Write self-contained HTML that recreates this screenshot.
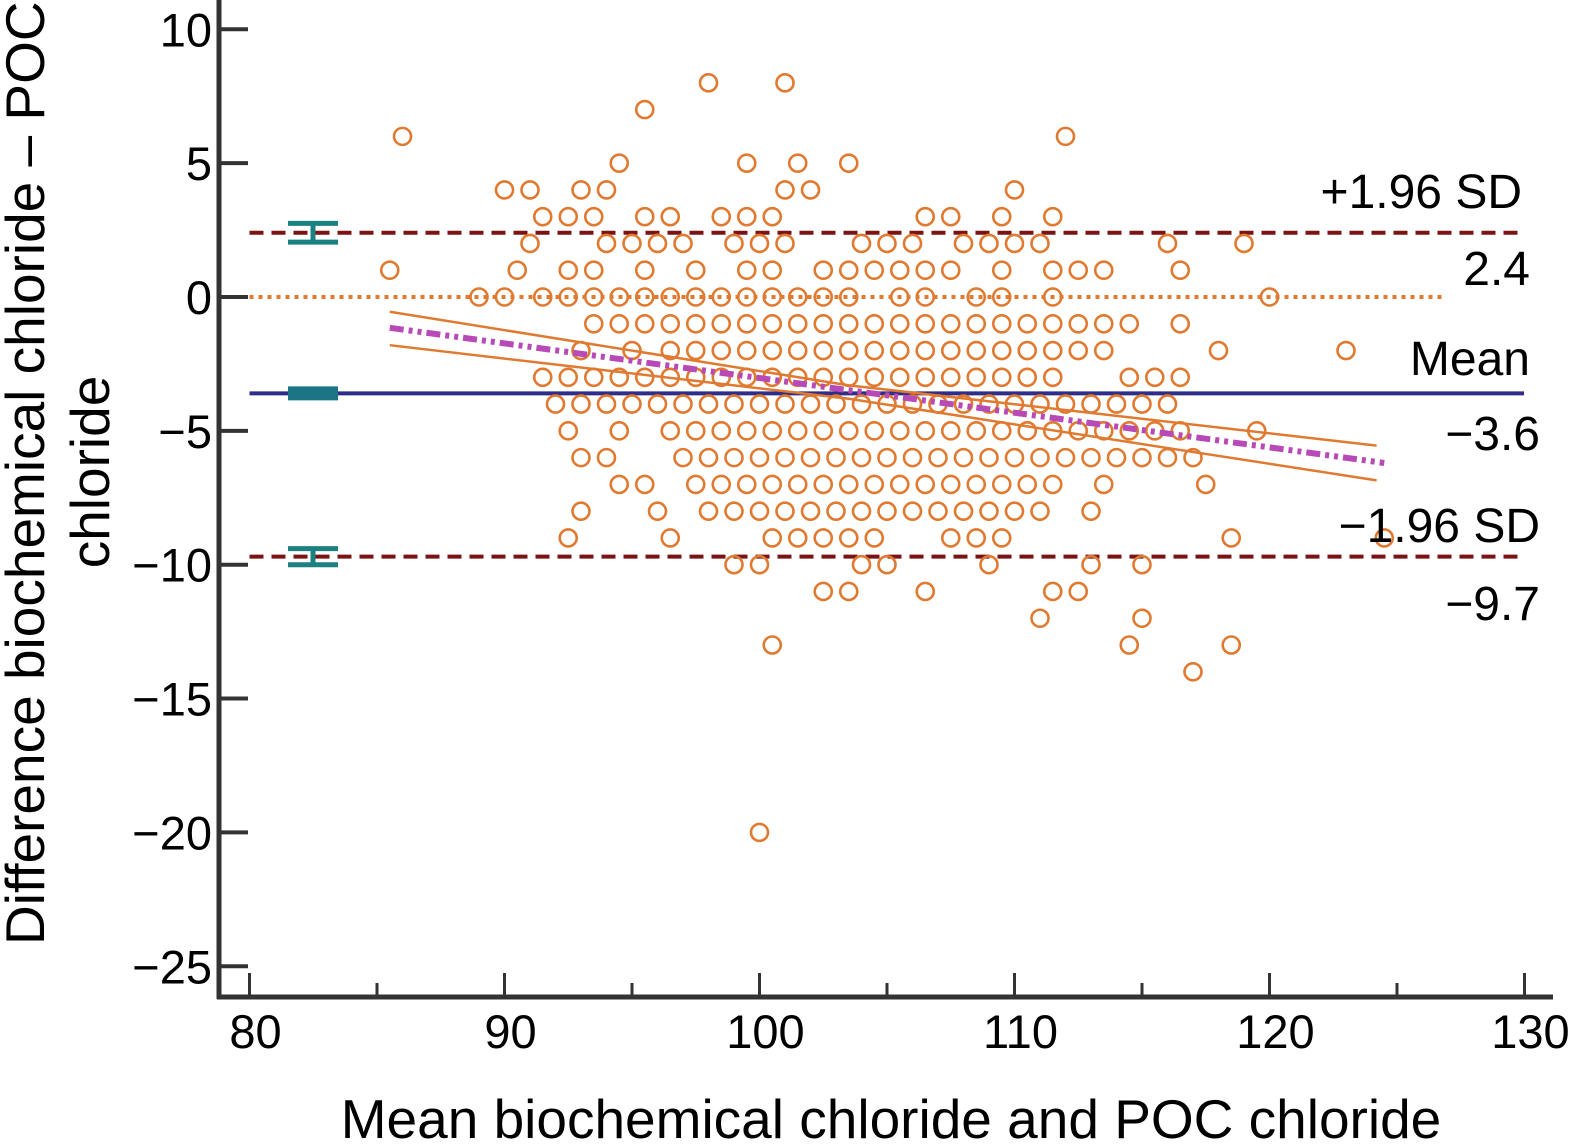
<!DOCTYPE html>
<html><head><meta charset="utf-8"><style>
html,body{margin:0;padding:0;background:#fff}
svg{display:block}
text{font-family:"Liberation Sans",sans-serif;fill:#000}
</style></head><body>
<svg id="chart" width="1572" height="1145" viewBox="0 0 1572 1145" xmlns="http://www.w3.org/2000/svg">
<g id="lines"></g>
<g id="points"></g>
<g id="axes"></g>
</svg>
<script>
const xTicks=[80,90,100,110,120,130];
const xMinor=[85,95,105,115,125];
const yTicks=[10,5,0,-5,-10,-15,-20,-25];
const upperLoA=2.4, meanDiff=-3.6, lowerLoA=-9.7;
const regStart=[85.5,-1.15], regEnd=[124.5,-6.2];
const ciUpper=[[85.5,-0.55],[103.5,-3.3],[124.2,-5.55]];
const ciLower=[[85.5,-1.8],[103.5,-3.8],[124.2,-6.85]];
// rows of points: difference value -> mean values
const rowY=[8,7,6,5,4,3,2,1,0,-1,-2,-3,-4,-5,-6,-7,-8,-9,-10,-11,-12,-13,-14,-20];
const rowX=[
[98,101],
[95.5],
[86,112],
[94.5,99.5,101.5,103.5],
[90,91,93,94,101,102,110],
[91.5,92.5,93.5,95.5,96.5,98.5,99.5,100.5,106.5,107.5,109.5,111.5],
[91,94,95,96,97,99,100,101,104,105,106,108,109,110,111,116,119],
[85.5,90.5,92.5,93.5,95.5,97.5,99.5,100.5,102.5,103.5,104.5,105.5,106.5,107.5,109.5,111.5,112.5,113.5,116.5],
[89,90,91.5,92.5,93.5,94.5,95.5,96.5,97.5,98.5,99.5,100.5,101.5,102.5,103.5,105.5,106.5,108.5,109.5,111.5,120],
[93.5,94.5,95.5,96.5,97.5,98.5,99.5,100.5,101.5,102.5,103.5,104.5,105.5,106.5,107.5,108.5,109.5,110.5,111.5,112.5,113.5,114.5,116.5],
[93,95,96.5,97.5,98.5,99.5,100.5,101.5,102.5,103.5,104.5,105.5,106.5,107.5,108.5,109.5,110.5,111.5,112.5,113.5,118,123],
[91.5,92.5,93.5,94.5,95.5,96.5,97.5,98.5,99.5,100.5,101.5,102.5,103.5,104.5,105.5,106.5,107.5,108.5,109.5,110.5,111.5,114.5,115.5,116.5],
[92,93,94,95,96,97,98,99,100,101,102,103,104,105,106,107,108,109,110,111,112,113,114,115,116],
[92.5,94.5,96.5,97.5,98.5,99.5,100.5,101.5,102.5,103.5,104.5,105.5,106.5,107.5,108.5,109.5,110.5,111.5,112.5,113.5,114.5,115.5,116.5,119.5],
[93,94,97,98,99,100,101,102,103,104,105,106,107,108,109,110,111,112,113,114,115,116,117],
[94.5,95.5,97.5,98.5,99.5,100.5,101.5,102.5,103.5,104.5,105.5,106.5,107.5,108.5,109.5,110.5,111.5,113.5,117.5],
[93,96,98,99,100,101,102,103,104,105,106,107,108,109,110,111,113],
[92.5,96.5,100.5,101.5,102.5,103.5,104.5,107.5,108.5,109.5,118.5,124.5],
[99,100,104,105,109,113,115],
[102.5,103.5,106.5,111.5,112.5],
[111,115],
[100.5,114.5,118.5],
[117],
[100]
];
const NS="http://www.w3.org/2000/svg";
const X=v=>249.5+(v-80)*25.5;
const Y=v=>297-v*26.77;
function mk(tag,attrs,parent,txt){const e=document.createElementNS(NS,tag);for(const k in attrs)e.setAttribute(k,attrs[k]);if(txt!==undefined)e.textContent=txt;parent.appendChild(e);return e;}
const gL=document.getElementById('lines'),gP=document.getElementById('points'),gA=document.getElementById('axes');
let e=mk('line',{x1:X(80),x2:1443,y1:Y(0),y2:Y(0),stroke:'#e07a30','stroke-width':4,'stroke-dasharray':'4 5'},gL);


e=mk('line',{x1:X(80),x2:1520,y1:Y(upperLoA),y2:Y(upperLoA),stroke:'#7a1414','stroke-width':4,'stroke-dasharray':'14 8'},gL);


e=mk('line',{x1:X(80),x2:1520,y1:Y(lowerLoA),y2:Y(lowerLoA),stroke:'#7a1414','stroke-width':4,'stroke-dasharray':'14 8'},gL);


e=mk('line',{x1:X(80),x2:1524,y1:Y(meanDiff),y2:Y(meanDiff),stroke:'#2e2e8a','stroke-width':4},gL);


const bx1=288,bx2=338,bxm=313;
[[upperLoA,0.35],[lowerLoA,0.3]].forEach(([v,h],i)=>{
 const g=mk('g',{stroke:'#1b8080','stroke-width':5,fill:'none'},gL);
 
 
 mk('line',{x1:bx1,x2:bx2,y1:Y(v+h),y2:Y(v+h)},g);
 mk('line',{x1:bx1,x2:bx2,y1:Y(v-h),y2:Y(v-h)},g);
 mk('line',{x1:bxm,x2:bxm,y1:Y(v+h),y2:Y(v-h)},g);
});
e=mk('rect',{x:bx1,y:Y(meanDiff)-7,width:bx2-bx1,height:14,fill:'#1b7585'},gL);


[ciUpper,ciLower].forEach((arr,i)=>{
 const p=mk('polyline',{points:arr.map(a=>X(a[0])+','+Y(a[1])).join(' '),fill:'none',stroke:'#e07a30','stroke-width':2.5},gL);
 
 
});
rowY.forEach((yv,i)=>{rowX[i].forEach(xv=>{
 const c=mk('circle',{cx:X(xv),cy:Y(yv),r:8.5,fill:'none',stroke:'#e07a30','stroke-width':2.6},gP);
 
 
});});
e=mk('line',{x1:X(regStart[0]),y1:Y(regStart[1]),x2:X(regEnd[0]),y2:Y(regEnd[1]),stroke:'#b84ab8','stroke-width':6,'stroke-dasharray':'14 5 4 5 4 5'},gL);
gP.parentNode.appendChild(e);


e=mk('line',{x1:219,x2:219,y1:0,y2:999,stroke:'#333','stroke-width':5},gA);


e=mk('line',{x1:217,x2:1553,y1:997,y2:997,stroke:'#333','stroke-width':5},gA);


yTicks.forEach(v=>{
 const t=mk('line',{x1:219,x2:248,y1:Y(v),y2:Y(v),stroke:'#333','stroke-width':4},gA);
 
 
 const l=mk('text',{x:212,y:Y(v)+17,'font-size':47,'text-anchor':'end'},gA,v<0?'\u2212'+(-v):String(v));
 
 
});
xTicks.forEach(v=>{
 const t=mk('line',{x1:X(v),x2:X(v),y1:973,y2:997,stroke:'#333','stroke-width':3},gA);
 
 
 const l=mk('text',{x:X(v)+6,y:1048,'font-size':47,'text-anchor':'middle'},gA,String(v));
 
 
});
xMinor.forEach(v=>{
 const t=mk('line',{x1:X(v),x2:X(v),y1:983,y2:997,stroke:'#333','stroke-width':3},gA);
 
 
});
[['+1.96 SD',1522,208,'upper-limit-label'],['2.4',1530,285,'upper-limit-value'],['Mean',1530,375,'mean-label'],['\u22123.6',1540,450,'mean-value'],['\u22121.96 SD',1540,542,'lower-limit-label'],['\u22129.7',1540,620,'lower-limit-value']].forEach(a=>{
 const l=mk('text',{x:a[1],y:a[2],'font-size':48,'text-anchor':'end'},gA,a[0]);
 
 
});
e=mk('text',{x:891,y:1138,'font-size':55,'text-anchor':'middle'},gA,'Mean biochemical chloride and POC chloride');


e=mk('text',{x:0,y:0,'font-size':55,'text-anchor':'start',transform:'translate(44,945) rotate(-90)'},gA,'Difference biochemical chloride \u2013 POC');


e=mk('text',{x:0,y:0,'font-size':55,'text-anchor':'middle',transform:'translate(109,472) rotate(-90)'},gA,'chloride');


</script>
</body></html>
